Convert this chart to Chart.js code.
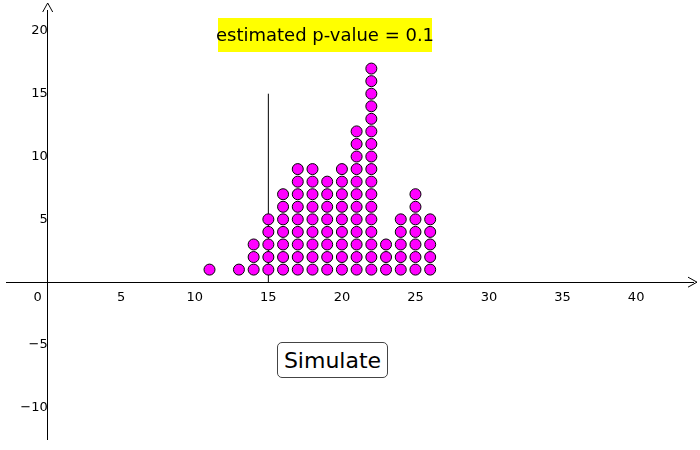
<!DOCTYPE html>
<html><head><meta charset="utf-8">
<script src="https://cdn.jsdelivr.net/npm/chart.js@4"></script>
<style>
body{margin:0;background:#fff;font-family:"DejaVu Sans",sans-serif}
#wrap{position:relative;width:700px;height:450px}
#sim{position:absolute;left:277px;top:342px;width:111px;height:36px;border:1px solid #444;border-radius:5px;background:#fff;font:22px "DejaVu Sans",sans-serif;color:#000;padding:0}
</style></head><body>
<div id="wrap"><canvas id="c" width="700" height="450"></canvas><button id="sim">Simulate</button></div>
<script>
const xValues = [11, 13, 14, 15, 16, 17, 18, 19, 20, 21, 22, 23, 24, 25, 26];
const counts = [1, 1, 3, 5, 7, 9, 9, 8, 9, 12, 17, 3, 5, 7, 5];
const observedX = 15;
const observedLineTop = 15;
const pLabel = "estimated p-value = 0.1";
const xTicks = [0, 5, 10, 15, 20, 25, 30, 35, 40];
const yTicks = [-10, -5, 5, 10, 15, 20];

const dots = [];
xValues.forEach((x, i) => {
  for (let k = 1; k <= counts[i]; k++) dots.push({ x: x, y: k });
});

const decor = {
  id: "decor",
  afterDraw(chart) {
    const { ctx, scales: { x, y } } = chart;
    const ox = x.getPixelForValue(0), oy = y.getPixelForValue(0);
    ctx.save();
    ctx.strokeStyle = "#000";
    ctx.lineWidth = 1;
    ctx.beginPath();
    ctx.moveTo(688, oy - 5); ctx.lineTo(697, oy); ctx.lineTo(688, oy + 5);
    ctx.moveTo(ox - 5, 12); ctx.lineTo(ox, 3); ctx.lineTo(ox + 5, 12);
    ctx.stroke();
    ctx.fillStyle = "#000";
    ctx.font = "13px 'DejaVu Sans'";
    ctx.textAlign = "right";
    ctx.fillText("0", ox - 6, oy + 19);
    ctx.fillStyle = "#ffff00";
    ctx.fillRect(218, 18, 214, 34);
    ctx.fillStyle = "#000";
    ctx.font = "18px 'DejaVu Sans'";
    ctx.textAlign = "center";
    ctx.textBaseline = "middle";
    ctx.fillText(pLabel, 325, 36);
    ctx.restore();
  }
};

new Chart(document.getElementById("c"), {
  type: "scatter",
  data: {
    datasets: [
      {
        data: dots,
        backgroundColor: "#ff00ff",
        borderColor: "#000",
        borderWidth: 1,
        pointRadius: 5.5
      },
      {
        type: "line",
        data: [{ x: observedX, y: 0 }, { x: observedX, y: observedLineTop }],
        borderColor: "#000",
        borderWidth: 1,
        pointRadius: 0
      }
    ]
  },
  options: {
    responsive: false,
    animation: false,
    layout: { padding: 0 },
    plugins: { legend: { display: false }, tooltip: { enabled: false } },
    scales: {
      x: {
        type: "linear", min: -2.8, max: 43.9,
        position: { y: 0 },
        grid: { display: false, drawTicks: true, tickLength: 5 },
        border: { color: "#000" },
        afterBuildTicks: (s) => { s.ticks = xTicks.map((v) => ({ value: v })); },
        ticks: { color: "#000", font: { size: 13, family: "DejaVu Sans" }, callback: (v) => v === 0 ? "" : String(v) }
      },
      y: {
        type: "linear", min: -12.5, max: 21.6,
        position: { x: 0 },
        grid: { display: false, drawTicks: true, tickLength: 5 },
        border: { color: "#000" },
        afterBuildTicks: (s) => { s.ticks = yTicks.map((v) => ({ value: v })); },
        ticks: { color: "#000", font: { size: 13, family: "DejaVu Sans" }, callback: (v) => String(v).replace("-", "\u2212") }
      }
    }
  },
  plugins: [decor]
});
</script>
</body></html>
